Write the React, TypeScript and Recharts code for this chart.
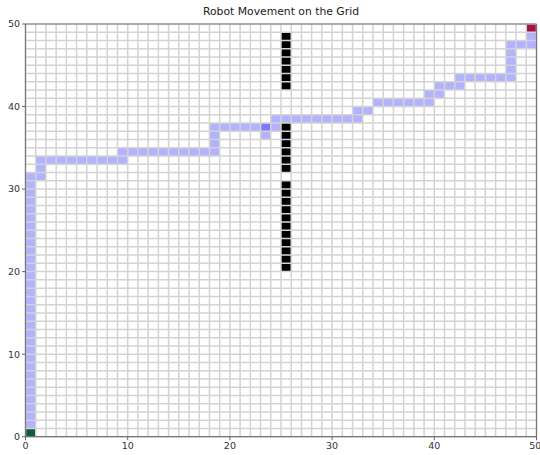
import { ScatterChart, Scatter, XAxis, YAxis, ReferenceArea, ReferenceLine } from 'recharts';

const GRID_SIZE = 50;
const xTicks = [0, 10, 20, 30, 40, 50];
const yTicks = [0, 10, 20, 30, 40, 50];

const startCell: [number, number] = [0, 0];
const goalCell: [number, number] = [49, 49];

// wall cells in column 25
const obstacleCells: [number, number][] = [
  [25, 20], [25, 21], [25, 22], [25, 23], [25, 24], [25, 25], [25, 26], [25, 27], [25, 28], [25, 29], [25, 30],
  [25, 32], [25, 33], [25, 34], [25, 35], [25, 36], [25, 37],
  [25, 42], [25, 43], [25, 44], [25, 45], [25, 46], [25, 47], [25, 48],
];

// visited cells in order (23,37 is visited twice)
const pathCells: [number, number][] = [
  [0, 1], [0, 2], [0, 3], [0, 4], [0, 5], [0, 6], [0, 7], [0, 8], [0, 9], [0, 10],
  [0, 11], [0, 12], [0, 13], [0, 14], [0, 15], [0, 16], [0, 17], [0, 18], [0, 19], [0, 20],
  [0, 21], [0, 22], [0, 23], [0, 24], [0, 25], [0, 26], [0, 27], [0, 28], [0, 29], [0, 30], [0, 31],
  [1, 31], [1, 32], [1, 33],
  [2, 33], [3, 33], [4, 33], [5, 33], [6, 33], [7, 33], [8, 33], [9, 33],
  [9, 34], [10, 34], [11, 34], [12, 34], [13, 34], [14, 34], [15, 34], [16, 34], [17, 34], [18, 34],
  [18, 35], [18, 36], [18, 37],
  [19, 37], [20, 37], [21, 37], [22, 37], [23, 37], [23, 36], [23, 37], [24, 37],
  [24, 38], [25, 38], [26, 38], [27, 38], [28, 38], [29, 38], [30, 38], [31, 38], [32, 38],
  [32, 39], [33, 39],
  [34, 40], [35, 40], [36, 40], [37, 40], [38, 40], [39, 40],
  [39, 41], [40, 41],
  [40, 42], [41, 42], [42, 42],
  [42, 43], [43, 43], [44, 43], [45, 43], [46, 43], [47, 43],
  [47, 44], [47, 45], [47, 46], [47, 47],
  [48, 47], [49, 47], [49, 48],
];

const gridLines = Array.from({ length: GRID_SIZE + 1 }, (_, i) => i);

const FONT = 'DejaVu Sans, sans-serif';

export default function App() {
  return (
    <div style={{ position: 'absolute', left: 0, top: 0, width: 540, height: 455, background: '#fff' }}>
      <div
        style={{
          position: 'absolute',
          top: 5,
          left: 25.5,
          width: 511,
          textAlign: 'center',
          fontFamily: FONT,
          fontSize: 10.8,
          color: '#222',
          lineHeight: '13px',
        }}
      >
        Robot Movement on the Grid
      </div>
      <ScatterChart width={540} height={455} margin={{ top: 24, right: 3.5, bottom: 0, left: 0 }}>
        <XAxis
          type="number"
          dataKey="x"
          domain={[0, GRID_SIZE]}
          ticks={xTicks}
          allowDataOverflow
          height={18.3}
          axisLine={false}
          tickLine={{ stroke: '#666' }}
          tickSize={3.5}
          tick={{ fontSize: 9.5, fill: '#333', fontFamily: FONT }}
        />
        <YAxis
          type="number"
          dataKey="y"
          domain={[0, GRID_SIZE]}
          ticks={yTicks}
          allowDataOverflow
          width={25.5}
          axisLine={false}
          tickLine={{ stroke: '#666' }}
          tickSize={3.5}
          tick={{ fontSize: 9.5, fill: '#333', fontFamily: FONT }}
        />
        {pathCells.map(([cx, cy], i) => (
          <ReferenceArea
            key={`p${i}`}
            x1={cx}
            x2={cx + 1}
            y1={cy}
            y2={cy + 1}
            fill="#0000ff"
            fillOpacity={0.3}
            stroke="none"
          />
        ))}
        {obstacleCells.map(([cx, cy], i) => (
          <ReferenceArea key={`o${i}`} x1={cx} x2={cx + 1} y1={cy} y2={cy + 1} fill="#000" fillOpacity={1} stroke="none" />
        ))}
        <ReferenceArea
          x1={startCell[0]}
          x2={startCell[0] + 1}
          y1={startCell[1]}
          y2={startCell[1] + 1}
          fill="#0b5a48"
          fillOpacity={1}
          stroke="none"
        />
        <ReferenceArea
          x1={goalCell[0]}
          x2={goalCell[0] + 1}
          y1={goalCell[1]}
          y2={goalCell[1] + 1}
          fill="#a8104a"
          fillOpacity={1}
          stroke="none"
        />
        {gridLines.map((v) => (
          <ReferenceLine key={`vx${v}`} x={v} stroke="#d3d3d3" strokeWidth={1.5} />
        ))}
        {gridLines.map((v) => (
          <ReferenceLine key={`hy${v}`} y={v} stroke="#d3d3d3" strokeWidth={1.5} />
        ))}
        <ReferenceLine x={0} stroke="#777" strokeWidth={1.2} />
        <ReferenceLine x={GRID_SIZE} stroke="#777" strokeWidth={1.2} />
        <ReferenceLine y={0} stroke="#777" strokeWidth={1.2} />
        <ReferenceLine y={GRID_SIZE} stroke="#777" strokeWidth={1.2} />
        <Scatter data={[]} isAnimationActive={false} />
      </ScatterChart>
    </div>
  );
}
